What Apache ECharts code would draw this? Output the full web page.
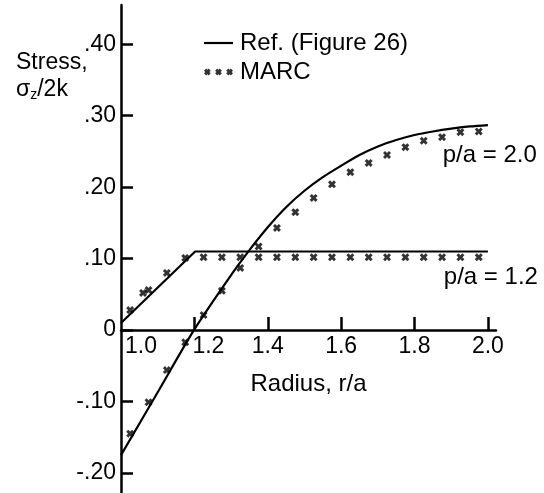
<!DOCTYPE html>
<html>
<head>
<meta charset="utf-8">
<script src="https://cdn.jsdelivr.net/npm/echarts@6/dist/echarts.min.js"></script>
<style>
  html, body { margin: 0; padding: 0; background: #fff; }
  #chart { width: 544px; height: 493px; }
</style>
</head>
<body>
<div id="chart"></div>
<script>
// reference solution (Figure 26), p/a = 1.2 and p/a = 2.0
const refX12 = [1.0, 1.202, 2.0];
const refY12 = [0.010, 0.110, 0.110];
const refX20 = [1.0, 1.1, 1.2, 1.3, 1.35, 1.4, 1.45, 1.5, 1.55, 1.6, 1.65, 1.7, 1.75, 1.8, 1.85, 1.9, 1.95, 2.0];
const refY20 = [-0.175, -0.087, 0.001, 0.077, 0.112, 0.144, 0.172, 0.195, 0.214, 0.230, 0.245, 0.257,
  0.266, 0.273, 0.278, 0.282, 0.285, 0.287];

// MARC results
const marcX12 = [1.025, 1.06, 1.075, 1.125, 1.175, 1.225, 1.275, 1.325, 1.375, 1.425, 1.475, 1.525,
  1.575, 1.625, 1.675, 1.725, 1.775, 1.825, 1.875, 1.925, 1.975];
const marcY12 = [0.028, 0.052, 0.056, 0.080, 0.101, 0.102, 0.102, 0.102, 0.102, 0.102, 0.102, 0.102,
  0.102, 0.102, 0.102, 0.102, 0.102, 0.102, 0.102, 0.102, 0.102];
const marcX20 = [1.025, 1.075, 1.125, 1.175, 1.225, 1.275, 1.325, 1.375, 1.425, 1.475, 1.525, 1.575,
  1.625, 1.675, 1.725, 1.775, 1.825, 1.875, 1.925, 1.975];
const marcY20 = [-0.145, -0.101, -0.056, -0.017, 0.021, 0.055, 0.087, 0.117, 0.143, 0.165, 0.185, 0.204,
  0.221, 0.234, 0.245, 0.256, 0.265, 0.270, 0.277, 0.278];

const xTicks = [1.0, 1.2, 1.4, 1.6, 1.8, 2.0];
const yTicks = [-0.2, -0.1, 0, 0.1, 0.2, 0.3, 0.4];
const yTickLabels = ["-.20", "-.10", "0", ".10", ".20", ".30", ".40"];
const curveLabels = ["p/a = 2.0", "p/a = 1.2"];
const curveLabelAt = [[2.005, 0.245], [2.008, 0.074]];

const pair = (xs, ys) => xs.map((x, i) => [x, ys[i]]);

const FONT = "Liberation Sans";
const INK = "#000";
const xMark = "path://M0,2.6L2.6,0L5,2.4L7.4,0L10,2.6L7.6,5L10,7.4L7.4,10L5,7.6L2.6,10L0,7.4L2.4,5Z";
const xMark3 = "path://" +
  [0, 115, 230].map(o =>
    `M${o},22L${o + 22},0L${o + 35},13L${o + 48},0L${o + 70},22L${o + 57},35L${o + 70},48L${o + 48},70L${o + 35},57L${o + 22},70L${o},48L${o + 13},35Z`
  ).join("");
const lineIcon = "path://M0,0H290V22H0Z";

const Y_MIN = -0.228, Y_MAX = 0.455, GRID_TOP = 5, GRID_BOTTOM = 0, H = 493;
// place the x axis on the zero line (labels included)
const plotH = H - GRID_TOP - GRID_BOTTOM;
const zeroOffset = -(plotH * (0 - Y_MIN) / (Y_MAX - Y_MIN));

const chart = echarts.init(document.getElementById("chart"));

const option = {
  backgroundColor: "#fff",
  animation: false,
  textStyle: { fontFamily: FONT, color: INK },
  title: {
    text: "Stress,\n{g|σ}{z|z}{g|/2k}",
    left: 11,
    top: 44,
    textStyle: {
      fontFamily: FONT,
      fontSize: 23,
      fontWeight: "normal",
      color: INK,
      lineHeight: 27,
      rich: {
        g: { fontFamily: FONT, fontSize: 23, color: INK },
        z: { fontFamily: FONT, fontSize: 14, color: INK, padding: [12, 0, 0, 0] },
      },
    },
  },
  legend: {
    left: 199,
    top: 26,
    orient: "vertical",
    itemWidth: 29,
    itemHeight: 7,
    itemGap: 5,
    textStyle: { fontFamily: FONT, fontSize: 24, color: INK, padding: [0, 0, 0, 2] },
    data: [
      { name: "Ref. (Figure 26)", icon: lineIcon, itemStyle: { color: INK } },
      { name: "MARC", icon: xMark3, itemStyle: { color: INK } },
    ],
  },
  grid: { left: 121, right: 48, top: GRID_TOP, bottom: GRID_BOTTOM, containLabel: false, outerBoundsMode: "none" },
  xAxis: {
    type: "value",
    min: 1.0,
    max: 2.022,
    position: "bottom",
    offset: zeroOffset,
    name: "Radius, r/a",
    nameLocation: "middle",
    nameGap: 42,
    nameTextStyle: { fontFamily: FONT, fontSize: 24, color: INK },
    splitLine: { show: false },
    axisLine: { onZero: false, lineStyle: { color: INK, width: 2.5 } },
    axisTick: {
      inside: true,
      length: 13,
      customValues: xTicks.slice(1),
      lineStyle: { color: INK, width: 2.5 },
    },
    axisLabel: {
      customValues: xTicks,
      margin: 5,
      fontFamily: FONT,
      fontSize: 23,
      color: INK,
      formatter: (v) => {
        const t = v.toFixed(1);
        if (Math.abs(v - 1.0) < 1e-6) return "{a|" + t + "}";
        if (Math.abs(v - 1.2) < 1e-6) return "{b|" + t + "}";
        return t;
      },
      rich: {
        a: { fontFamily: FONT, fontSize: 23, color: INK, padding: [0, 0, 0, 40] },
        b: { fontFamily: FONT, fontSize: 23, color: INK, padding: [0, 0, 0, 28] },
      },
    },
  },
  yAxis: {
    type: "value",
    min: Y_MIN,
    max: Y_MAX,
    splitLine: { show: false },
    axisLine: { onZero: false, lineStyle: { color: INK, width: 2.5 } },
    axisTick: {
      inside: true,
      length: 12,
      customValues: yTicks,
      lineStyle: { color: INK, width: 2.5 },
    },
    axisLabel: {
      customValues: yTicks,
      margin: 5,
      fontFamily: FONT,
      fontSize: 23,
      color: INK,
      formatter: (v) => {
        const i = yTicks.findIndex(t => Math.abs(t - v) < 1e-6);
        return i >= 0 ? yTickLabels[i] : "";
      },
    },
  },
  series: [
    {
      name: "Ref. (Figure 26)",
      type: "line",
      data: pair(refX12, refY12),
      symbol: "none",
      lineStyle: { color: INK, width: 2.2 },
      itemStyle: { color: INK },
      markPoint: {
        symbol: "circle",
        symbolSize: 0,
        label: {
          show: true,
          position: "inside",
          fontFamily: FONT,
          fontSize: 24,
          color: INK,
          formatter: (p) => p.name,
        },
        data: curveLabels.map((t, i) => ({ name: t, coord: curveLabelAt[i] })),
      },
    },
    {
      name: "Ref. (Figure 26)",
      type: "line",
      data: pair(refX20, refY20),
      symbol: "none",
      smooth: 0.3,
      lineStyle: { color: INK, width: 2.2 },
      itemStyle: { color: INK },
    },
    {
      name: "MARC",
      type: "scatter",
      data: pair(marcX12, marcY12),
      symbol: xMark,
      symbolSize: 8,
      itemStyle: { color: INK },
    },
    {
      name: "MARC",
      type: "scatter",
      data: pair(marcX20, marcY20),
      symbol: xMark,
      symbolSize: 8,
      itemStyle: { color: INK },
    },
  ],
};

chart.setOption(option);
</script>
</body>
</html>
